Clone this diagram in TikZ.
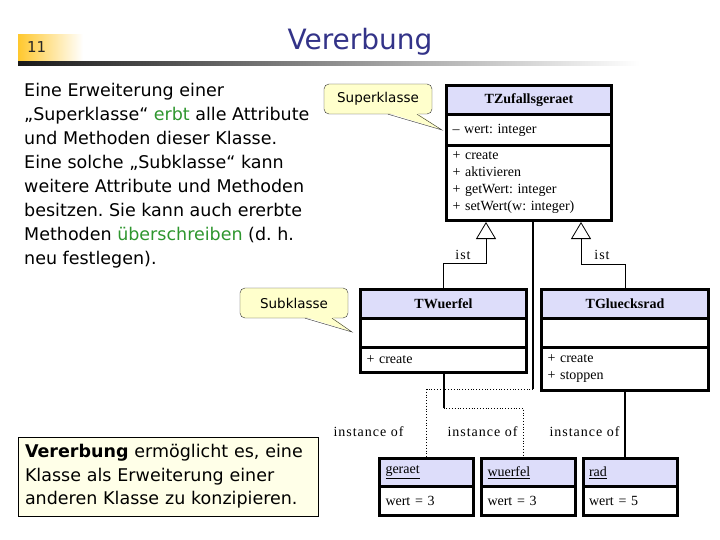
\documentclass[tikz,border=0pt]{standalone}
\usepackage{fontspec}
\setmainfont{DejaVu Sans}
\newfontfamily\umlfont{Liberation Serif}
\newfontfamily\umlspaced[LetterSpace=7]{Liberation Serif}
\usepackage{xcolor}
\usetikzlibrary{positioning,arrows.meta}
\definecolor{titleblue}{HTML}{333388}
\definecolor{umlblue}{HTML}{DDDDFA}
\definecolor{notefill}{HTML}{FFFFCC}
\definecolor{merkfill}{HTML}{FFFFE8}
\definecolor{keygreen}{HTML}{2E962E}
\definecolor{gold}{HTML}{FFC82E}
\frenchspacing

\begin{document}
\begin{tikzpicture}[x=1pt,y=-1pt,
  umlhead/.style={draw,line width=3pt,fill=umlblue,outer sep=0pt,inner sep=0pt,
    minimum height=29pt,font=\umlfont\bfseries\fontsize{14}{17}\selectfont},
  umlpart/.style={draw,line width=3pt,fill=white,outer sep=0pt,inner xsep=6pt,
    inner ysep=0pt,align=left,font=\umlfont\fontsize{14}{17}\selectfont},
  objhead/.style={umlpart,fill=umlblue,minimum height=28pt},
  note/.style={draw=black!80,fill=notefill,rounded corners=5pt,inner sep=0pt,
    minimum width=108pt,minimum height=30pt,font=\fontsize{13.5}{16}\selectfont},
  merke/.style={draw,line width=0.8pt,fill=merkfill,minimum width=300pt,
    minimum height=79pt,text width=286pt,inner xsep=7pt,align=left,
    font=\fontsize{17.5}{23.5}\selectfont},
  inherit/.style={draw,line width=0.8pt,shorten >=1.5pt,
    -{Triangle[open,length=17pt,width=20pt]}},
  instline/.style={draw,line width=2pt},
  instdot/.style={draw,line width=0.8pt,dotted},
  lbl/.style={font=\umlspaced\fontsize{14}{17}\selectfont,inner sep=0pt}]
\useasboundingbox (0,0) rectangle (720,540);

% kopfzeile
\shade[left color=gold,right color=white] (18,35) rectangle (83,61);
\shade[left color=black!90,right color=white] (18,62) rectangle (640,66);
\node[anchor=base west,inner sep=0pt,font=\fontsize{15}{18}\selectfont,text=black!85] (num) at (27,53) {11};
\node[anchor=base,inner sep=0pt,font=\fontsize{28}{34}\selectfont,text=titleblue] (title) at (360,50) {Vererbung};

% base = letzte Zeile
\node[anchor=base west,inner sep=0pt,align=left,font=\fontsize{17.5}{24}\selectfont] (intro) at (24,264)
  {Eine Erweiterung einer\\„Superklasse“ \textcolor{keygreen}{erbt} alle Attribute\\und Methoden dieser Klasse.\\Eine solche „Subklasse“ kann\\weitere Attribute und Methoden\\besitzen. Sie kann auch ererbte\\Methoden \textcolor{keygreen}{überschreiben} (d. h.\\neu festlegen).};

% klassen
\node[umlhead,minimum width=165pt] (zuf) at (529,100) {TZufallsgeraet};
\node[umlpart,below=0pt of zuf,text width=153pt,minimum height=31pt] (zufa) {– wert: integer};
\node[umlpart,below=0pt of zufa,text width=153pt,minimum height=75pt] (zufm)
  {+ create\\+ aktivieren\\+ getWert: integer\\+ setWert(w: integer)};

\node[umlhead,minimum width=166pt] (wue) at (443.5,303.5) {TWuerfel};
\node[umlpart,below=0pt of wue,text width=154pt,minimum height=29pt] (wuea) {};
\node[umlpart,below=0pt of wuea,text width=154pt,minimum height=25pt] (wuem) {+ create};

\node[umlhead,minimum width=167pt] (glu) at (625,303.5) {TGluecksrad};
\node[umlpart,below=0pt of glu,text width=155pt,minimum height=29pt] (glua) {};
\node[umlpart,below=0pt of glua,text width=155pt,minimum height=43pt] (glum) {+ create\\+ stoppen};

% objekte
\node[objhead,text width=82pt] (ger) at (426.5,472.5) {\underline{geraet}};
\node[umlpart,below=0pt of ger,text width=82pt,minimum height=29pt] (gerw) {wert = 3};
\node[objhead,text width=82pt] (wuo) at (528.5,472.5) {\underline{wuerfel}};
\node[umlpart,below=0pt of wuo,text width=82pt,minimum height=29pt] (wuow) {wert = 3};
\node[objhead,text width=82pt] (rado) at (630,472.5) {\underline{rad}};
\node[umlpart,below=0pt of rado,text width=82pt,minimum height=29pt] (radw) {wert = 5};

% vererbung
\draw[inherit] (wue.north) -- ++(0,-26) -| ([xshift=-43pt]zufm.south);
\draw[inherit] (glu.north) -- ++(0,-25) -| ([xshift=52pt]zufm.south);
\node[lbl] (ist1) at (463,255) {ist};
\node[lbl] (ist2) at (602,255) {ist};

% instanzen
\draw[instline] ([xshift=4pt]zufm.south) -- ++(0,168.5) coordinate (zufknick);
\draw[instdot] (zufknick) -| (ger.north);
\draw[instline] (wuem.south) -- ++(0,36) coordinate (wueknick);
\draw[instdot] (wueknick) -| ([xshift=-5.5pt]wuo.north);
\draw[instline] (glum.south) -- (glum.south |- rado.north);
\node[lbl] (inst1) at (368.5,432) {instance of};
\node[lbl] (inst2) at (482.5,432) {instance of};
\node[lbl] (inst3) at (584.5,432) {instance of};

% sprechblasen
\node[note] (sup) at (378,99) {Superklasse};
\coordinate (suptip) at (442,130);
\fill[notefill] ([xshift=10pt,yshift=1.5pt]sup.south) -- (suptip) -- ([xshift=39pt,yshift=1.5pt]sup.south) -- cycle;
\draw[black!80] ([xshift=10pt]sup.south) -- (suptip) -- ([xshift=39pt]sup.south);
\node[note] (sub) at (294,303) {Subklasse};
\coordinate (subtip) at (352,332);
\fill[notefill] ([xshift=11pt,yshift=1.5pt]sub.south) -- (subtip) -- ([xshift=38pt,yshift=1.5pt]sub.south) -- cycle;
\draw[black!80] ([xshift=11pt]sub.south) -- (subtip) -- ([xshift=38pt]sub.south);

\node[merke] (merke) at (168,476.5) {\textbf{Vererbung} ermöglicht es, eine\\Klasse als Erweiterung einer\\anderen Klasse zu konzipieren.};
\end{tikzpicture}
\end{document}
